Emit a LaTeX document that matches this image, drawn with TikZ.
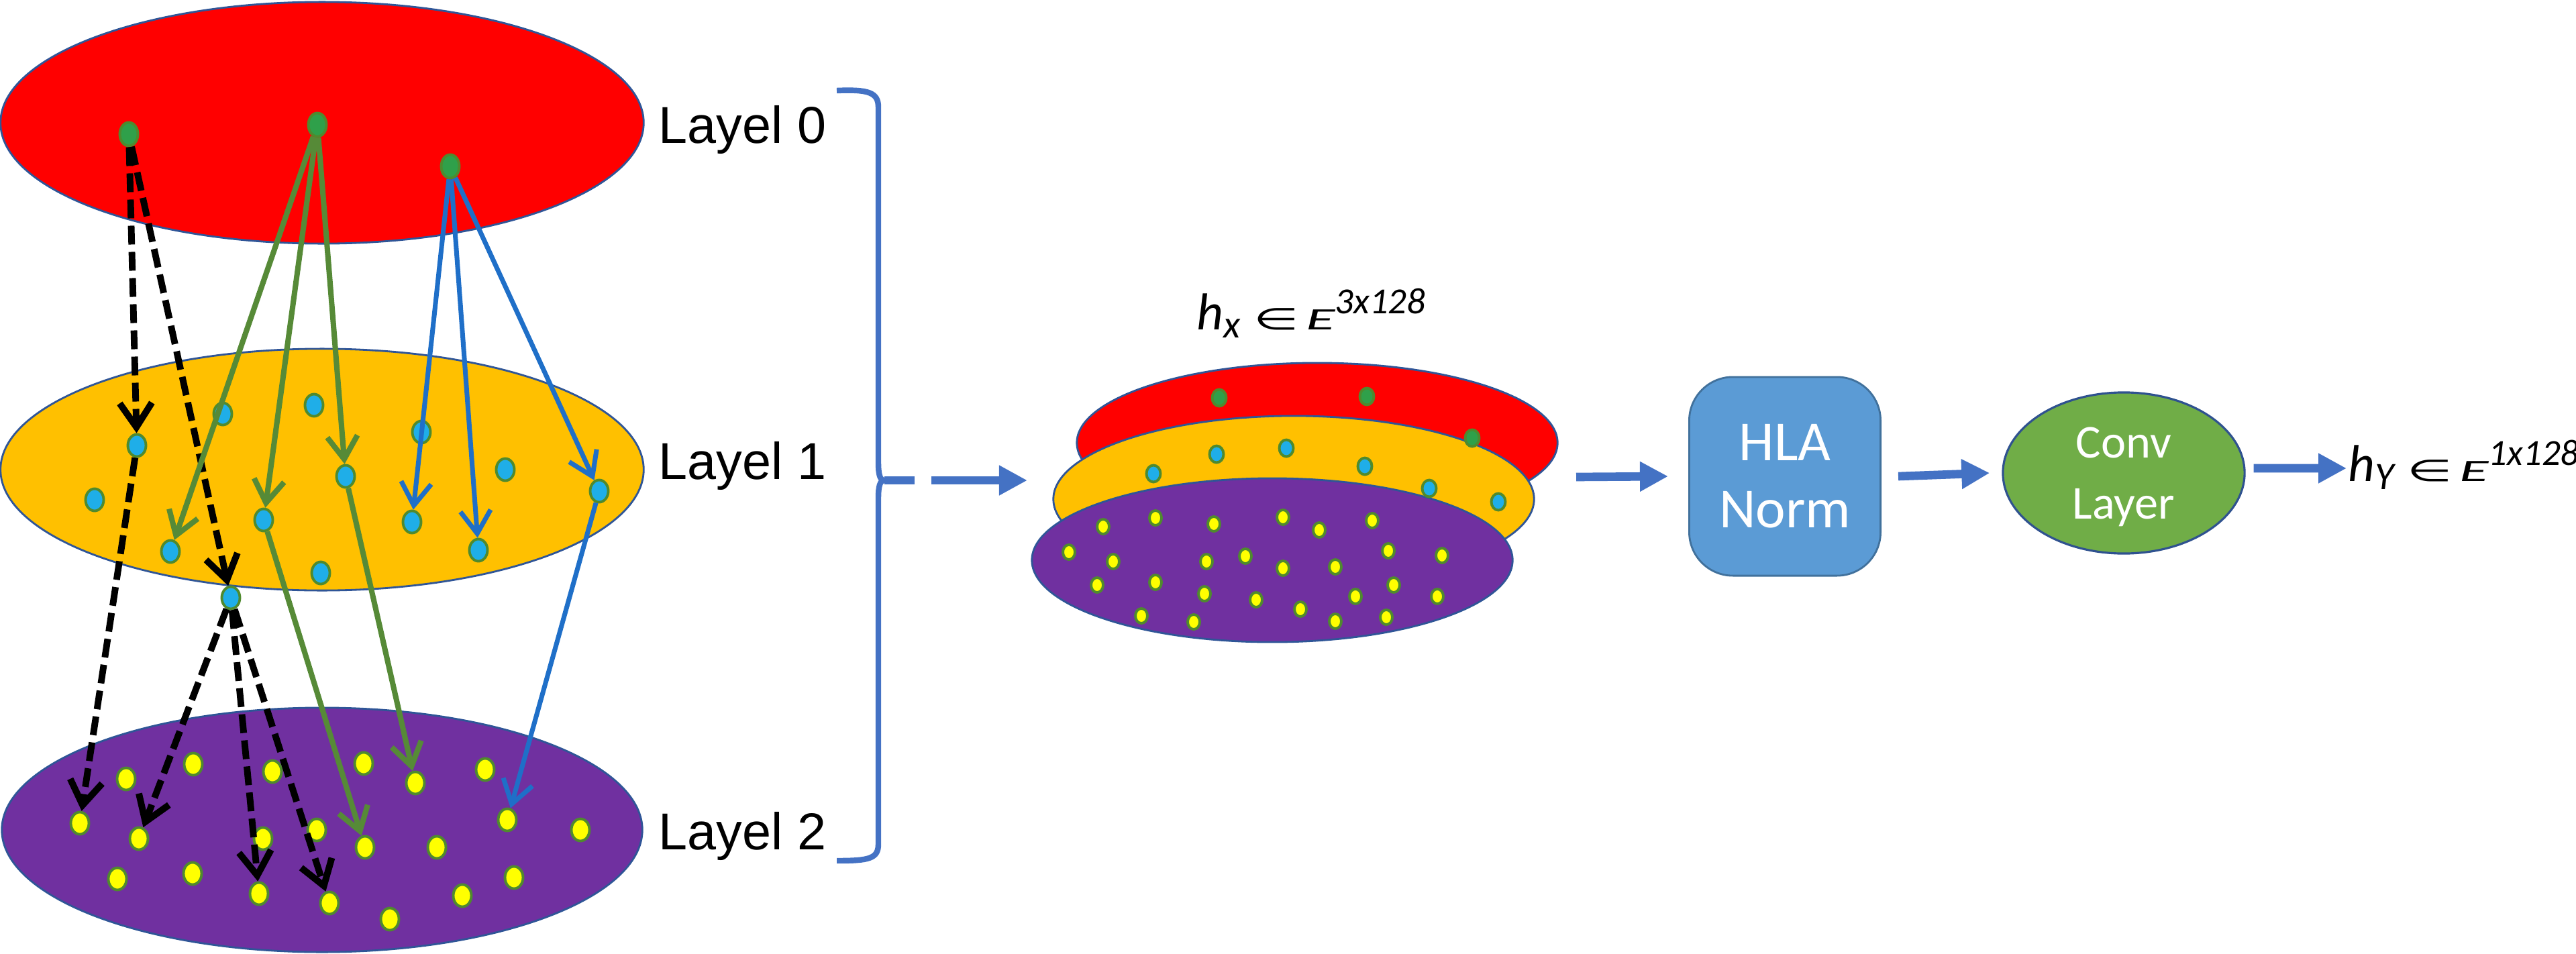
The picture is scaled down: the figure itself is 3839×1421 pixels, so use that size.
\documentclass[tikz,border=0pt]{standalone}
\usepackage{fontspec}
\usepackage{graphicx}
\setmainfont{Liberation Sans}
\newfontfamily\calfont{Carlito}
\newfontfamily\djfont{DejaVu Sans}
\usetikzlibrary{shapes.geometric,arrows.meta,calc}

\definecolor{redL}{HTML}{FF0000}
\definecolor{yelL}{HTML}{FFC000}
\definecolor{purL}{HTML}{7030A0}
\definecolor{edgeB}{HTML}{2F5597}
\definecolor{dotG}{HTML}{2FA04A}
\definecolor{dotC}{HTML}{1FAEE8}
\definecolor{dotY}{HTML}{FFFF00}
\definecolor{dotEdge}{HTML}{4F8A2E}
\definecolor{arrG}{HTML}{568A37}
\definecolor{arrB}{HTML}{1F6FC8}
\definecolor{flowB}{HTML}{4472C4}
\definecolor{hlaF}{HTML}{5B9BD5}
\definecolor{hlaE}{HTML}{41719C}
\definecolor{convF}{HTML}{70AD47}
\definecolor{convE}{HTML}{2F528F}

\newcommand{\hlab}[2]{{\calfont\itshape\fontsize{22pt}{26pt}\selectfont h}%
\raisebox{-0.12cm}{\calfont\itshape\fontsize{16.5pt}{20pt}\selectfont #1}%
\hspace{0.2cm}\scalebox{1}[0.58]{\djfont\fontsize{22pt}{26pt}\selectfont ∈}%
\hspace{0.1cm}\scalebox{1.15}[0.6]{\calfont\itshape\fontsize{22pt}{26pt}\selectfont E}%
\raisebox{0.23cm}{\calfont\itshape\fontsize{15.6pt}{18pt}\selectfont #2}}

\tikzset{
  layer/.style={ellipse, draw=edgeB, line width=0.8pt, inner sep=0pt},
  dot/.style={ellipse, draw=dotEdge, line width=1.1pt, inner sep=0pt,
              minimum width=0.27cm, minimum height=0.33cm},
  gdot/.style={dot, fill=dotG, minimum height=0.35cm},
  cdot/.style={dot, fill=dotC},
  ydot/.style={dot, fill=dotY},
  sdot/.style={ellipse, draw=dotEdge, line width=1.1pt, inner sep=0pt,
              minimum width=0.21cm, minimum height=0.25cm},
  sgdot/.style={sdot, fill=dotG},
  scdot/.style={sdot, fill=dotC},
  sydot/.style={sdot, fill=dotY, minimum width=0.18cm, minimum height=0.22cm},
  blk/.style={line width=2.8pt, black, dash pattern=on 0.28cm off 0.11cm,
              -{Straight Barb[length=0.36cm,width=0.48cm]}},
  grn/.style={line width=2.3pt, arrG, -{Straight Barb[length=0.34cm,width=0.45cm]}},
  blu/.style={line width=2pt, arrB, -{Straight Barb[length=0.34cm,width=0.45cm]}},
  flow/.style={line width=3.6pt, flowB, -{Triangle[length=0.42cm,width=0.42cm]}},
  lbl/.style={inner sep=0pt, anchor=base west, font=\fontsize{22pt}{26pt}\selectfont},
  hla/.style={rectangle, rounded corners=0.65cm, fill=hlaF, draw=hlaE, line width=0.8pt,
              minimum width=2.85cm, minimum height=2.96cm, text=white, align=center,
              font=\calfont\fontsize{24pt}{28.5pt}\selectfont},
  conv/.style={ellipse, fill=convF, draw=convE, line width=0.9pt, inner sep=0pt,
              minimum width=3.6cm, minimum height=2.4cm, text=white, align=center,
              text depth=0pt, font=\calfont\fontsize{20pt}{26pt}\selectfont},
}

\begin{document}
\begin{tikzpicture}[x=0.01cm,y=-0.01cm]
\useasboundingbox (0,0) rectangle (3839,1421);

% ---------- left: three layers ----------
\node[layer, fill=redL, minimum width=9.58cm, minimum height=3.6cm] (L0) at (480,183) {};
\node[layer, fill=yelL, minimum width=9.58cm, minimum height=3.6cm] (L1) at (480,700) {};
\node[layer, fill=purL, minimum width=9.54cm, minimum height=3.64cm] (L2) at (480,1237) {};

\foreach \n/\x/\y in {g1/192/200, g2/473/186, g3/671/248}
  \node[gdot] (\n) at (\x,\y) {};

\foreach \n/\x/\y in {c1/204/664, c2/332/617, c3/468/604, c4/628/644, c5/515/710,
  c6/753/700, c7/893/732, c8/141/745, c9/393/775, c10/254/822, c11/614/778,
  c12/713/820, c13/478/854, c14/344/891}
  \node[cdot] (\n) at (\x,\y) {};

\foreach \n/\x/\y in {p1/119/1227, p2/188/1161, p3/288/1139, p4/207/1250, p5/406/1150,
  p6/392/1250, p7/472/1237, p8/542/1138, p9/619/1167, p10/544/1263, p11/651/1263,
  p12/723/1147, p13/756/1222, p14/865/1237, p15/175/1310, p16/287/1302,
  p17/386/1332, p18/491/1346, p19/581/1370, p20/689/1335, p21/766/1308}
  \node[ydot] (\n) at (\x,\y) {};

\foreach \a/\b in {g1/c1, g1/c14, c1/p1, c14/p4, c14/p17, c14/p18}
  \draw[blk] (\a) -- (\b);
\foreach \a/\b in {g2/c10, g2/c9, g2/c5, c9/p10, c5/p9}
  \draw[grn] (\a) -- (\b);
\foreach \a/\b in {g3/c11, g3/c12, g3/c7, c7/p13}
  \draw[blu] (\a) -- (\b);

\node[lbl] (t0) at (981,213) {Layel 0};
\node[lbl] (t1) at (981,714) {Layel 1};
\node[lbl] (t2) at (981,1266) {Layel 2};

% ---------- brace ----------
\coordinate (btip) at (1318,716);
\draw[flowB, line width=2.4pt] (1247,135) .. controls (1295,133) and (1309,138) .. (1309,160)
  -- (1309,690) .. controls (1309,706) and (1311,716) .. (btip)
  .. controls (1311,716) and (1309,726) .. (1309,742)
  -- (1309,1258) .. controls (1309,1280) and (1295,1283) .. (1247,1283);

% ---------- stacked layers ----------
\node[layer, fill=redL, minimum width=7.16cm, minimum height=2.38cm] (sR) at (1963,660) {};
\node[layer, fill=yelL, minimum width=7.16cm, minimum height=2.48cm] (sY) at (1928,744) {};
\node[layer, fill=purL, minimum width=7.16cm, minimum height=2.44cm] (sP) at (1896,835) {};

\foreach \n/\x/\y in {sg1/1817/593, sg2/2037/591, sg3/2194/653}
  \node[sgdot] (\n) at (\x,\y) {};
\foreach \n/\x/\y in {sc1/1719/706, sc2/1813/677, sc3/1917/668, sc4/2034/695,
  sc5/2130/728, sc6/2233/748}
  \node[scdot] (\n) at (\x,\y) {};
\foreach \n/\x/\y in {sy1/1644/785, sy2/1722/772, sy3/1809/781, sy4/1912/771,
  sy5/1966/790, sy6/2045/776, sy7/1593/823, sy8/1659/837, sy9/1798/837,
  sy10/1856/829, sy11/1912/847, sy12/1990/845, sy13/2069/821, sy14/2149/828,
  sy15/1635/872, sy16/1722/868, sy17/1795/885, sy18/1872/894, sy19/1938/908,
  sy20/2020/889, sy21/2077/872, sy22/2142/889, sy23/1701/918, sy24/1779/927,
  sy25/1990/926, sy26/2066/920}
  \node[sydot] (\n) at (\x,\y) {};

\node[inner sep=0pt, anchor=base west] (hx) at (1783,491) {\hlab{x}{3x128}};

\coordinate (sin) at (1531,716);
\coordinate (sout) at (2349,711);
\draw[flow, dash pattern=on 0.45cm off 0.25cm on 5cm off 0.1cm] (btip) -- (sin);

% ---------- right part ----------
\node[hla] (hla) at (2660,710) {HLA\\Norm};
\node[conv] (conv) at (3165,705) {Conv\\Layer};
\node[inner sep=0pt, anchor=base west] (hy) at (3499,717) {\hlab{Y}{1x128}};
\coordinate (hyin) at (3497,698);

\draw[flow] (sout) -- ([xshift=-0.3cm]hla.west);
\draw[flow] ([xshift=0.25cm]hla.east) -- ([xshift=-0.18cm]conv.west);
\draw[flow] ([xshift=0.12cm,yshift=0.07cm]conv.east) -- (hyin);
\end{tikzpicture}
\end{document}
